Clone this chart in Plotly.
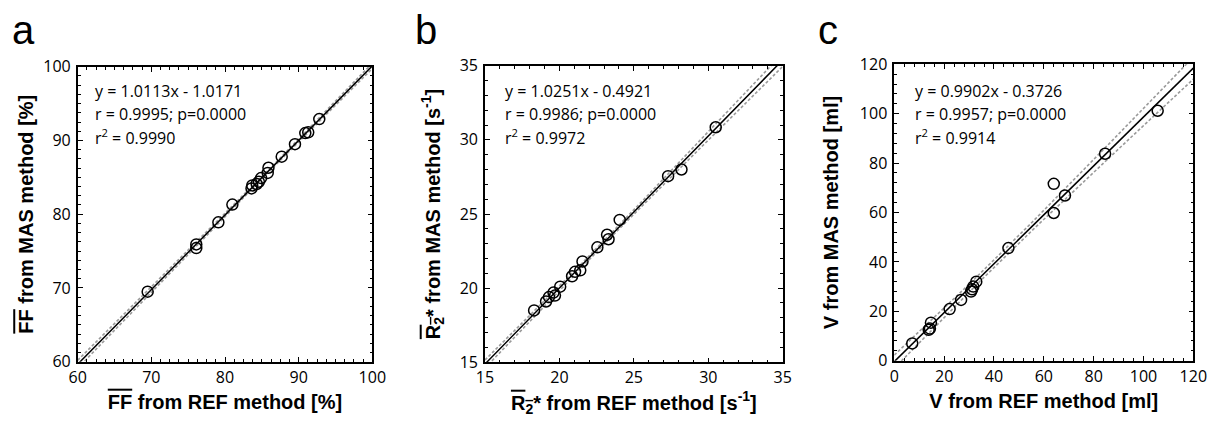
import numpy as np
import plotly.graph_objects as go

# The page body adds an 8 px margin, so the figure is drawn 8 px in from the
# window corner; positions below are given in window pixels and converted.
OFF = 8
W, H = 1220 - OFF, 421 - OFF

# ---------------- data ----------------
ff_ref = [69.5, 76.1, 76.1, 79.1, 81.0, 83.6, 83.7, 84.3, 84.6, 84.9, 85.8, 85.9, 87.7, 89.5, 90.9, 91.3, 92.8]
ff_mas = [69.5, 75.9, 75.4, 78.9, 81.3, 83.5, 83.9, 84.1, 84.4, 84.9, 85.6, 86.3, 87.8, 89.5, 91.0, 91.1, 92.9]

r2_ref = [18.3, 19.1, 19.3, 19.6, 19.7, 20.05, 20.85, 21.05, 21.4, 21.55, 22.55, 23.2, 23.3, 24.05, 27.3, 28.2, 30.5]
r2_mas = [18.5, 19.1, 19.4, 19.7, 19.5, 20.1, 20.8, 21.1, 21.2, 21.8, 22.75, 23.6, 23.3, 24.6, 27.55, 28.0, 30.85]

v_ref = [7.2, 13.8, 14.3, 14.7, 22.2, 26.8, 30.8, 31.2, 31.7, 32.9, 45.8, 64.0, 64.0, 68.5, 84.6, 105.7]
v_mas = [7.0, 12.5, 13.0, 15.4, 20.9, 24.6, 28.0, 28.9, 30.0, 32.0, 45.6, 71.6, 59.8, 66.9, 83.8, 101.2]

# regression coefficients printed on the chart
slopes = [1.0113, 1.0251, 0.9902]
intercepts = [-1.0171, -0.4921, -0.3726]
eq_texts = ["y = 1.0113x - 1.0171", "y = 1.0251x - 0.4921", "y = 0.9902x - 0.3726"]
r_texts = ["r = 0.9995; p=0.0000", "r = 0.9986; p=0.0000", "r = 0.9957; p=0.0000"]
r2_texts = ["r<sup>2</sup> = 0.9990", "r<sup>2</sup> = 0.9972", "r<sup>2</sup> = 0.9914"]

ranges = [(60, 100), (15, 35), (0, 120)]
major_steps = [10, 5, 20]
minor_steps = [1.25, 1, 4]
panel_letters = ["a", "b", "c"]

OL = '<span style="text-decoration:overline">'
x_titles = [
    f"<b>{OL}FF</span> from REF method [%]</b>",
    f"<b>{OL}R<sub>2</sub></span>* from REF method [s<sup>-1</sup>]</b>",
    "<b>V from REF method [ml]</b>",
]
y_titles = [
    f"<b>{OL}FF</span> from MAS method [%]</b>",
    f"<b>{OL}R<sub>2</sub></span>* from MAS method [s<sup>-1</sup>]</b>",
    "<b>V from MAS method [ml]</b>",
]

T95 = 2.12  # Student t quantile used for the 95% confidence band

# ---------------- layout geometry (window pixels) ----------------
boxes = [  # left, right, top, bottom
    (77.7, 372.3, 66.7, 361.7),
    (485.0, 782.7, 65.7, 362.3),
    (894.3, 1193.3, 64.3, 360.7),
]
letter_x = [10, 413, 816]
text_dx = [15, 18, 19]
ytitle_standoff = [4, 14, 16]

def px(x):
    return (x - OFF) / W

def py(y):
    return 1 - (y - OFF) / H

fig = go.Figure()
datasets = [(ff_ref, ff_mas), (r2_ref, r2_mas), (v_ref, v_mas)]
FONT = "Open Sans"
TITLE_FONT = "Liberation Sans"

layout = dict(
    width=W, height=H,
    margin=dict(l=0, r=0, t=0, b=0, autoexpand=False),
    paper_bgcolor="white", plot_bgcolor="white",
    showlegend=False,
    font=dict(family=FONT, color="black", size=16),
)
annotations = []

for i in range(3):
    xs = np.array(datasets[i][0], dtype=float)
    ys = np.array(datasets[i][1], dtype=float)
    lo, hi = ranges[i]
    xa = "x" if i == 0 else f"x{i+1}"
    ya = "y" if i == 0 else f"y{i+1}"
    xkey = "xaxis" if i == 0 else f"xaxis{i+1}"
    ykey = "yaxis" if i == 0 else f"yaxis{i+1}"

    # regression line + confidence band
    gx = np.linspace(lo, hi, 200)
    fit = slopes[i] * gx + intercepts[i]
    pred = slopes[i] * xs + intercepts[i]
    n = len(xs)
    s = np.sqrt(np.sum((ys - pred) ** 2) / (n - 2))
    sxx = np.sum((xs - xs.mean()) ** 2)
    half = T95 * s * np.sqrt(1 / n + (gx - xs.mean()) ** 2 / sxx)

    for band in (fit + half, fit - half):
        fig.add_trace(go.Scatter(x=gx, y=band, mode="lines", xaxis=xa, yaxis=ya,
                                 line=dict(color="#9a9a9a", width=1.6, dash="3px,2px"),
                                 hoverinfo="skip"))
    fig.add_trace(go.Scatter(x=gx, y=fit, mode="lines", xaxis=xa, yaxis=ya,
                             line=dict(color="black", width=1.5), hoverinfo="skip"))
    fig.add_trace(go.Scatter(x=xs, y=ys, mode="markers", xaxis=xa, yaxis=ya,
                             marker=dict(symbol="circle-open", size=11, color="black",
                                         line=dict(width=1.5, color="black")),
                             cliponaxis=False))

    L, R, T, B = boxes[i]
    common = dict(
        range=[lo, hi], showgrid=False, zeroline=False, automargin=False,
        showline=True, linecolor="black", linewidth=1.6, mirror="allticks",
        ticks="inside", ticklen=5, tickwidth=1.2, tickcolor="black",
        tick0=lo, dtick=major_steps[i],
        minor=dict(ticks="inside", ticklen=3, tickwidth=1, tickcolor="black",
                   dtick=minor_steps[i], tick0=lo, showgrid=False),
        tickfont=dict(family=FONT, size=16, color="black"),
        fixedrange=True,
    )
    layout[xkey] = dict(common, domain=[px(L), px(R)], anchor=ya, ticklabelstandoff=0,
                        title=dict(text=x_titles[i], standoff=8,
                                   font=dict(family=TITLE_FONT, size=20, color="black")))
    layout[ykey] = dict(common, domain=[py(B), py(T)], anchor=xa, ticklabelstandoff=2,
                        title=dict(text=y_titles[i], standoff=ytitle_standoff[i],
                                   font=dict(family=TITLE_FONT, size=20, color="black")))

    for j, (txt, yy) in enumerate(zip([eq_texts[i], r_texts[i], r2_texts[i]], [91, 114, 137])):
        annotations.append(dict(text=txt, x=px(L + text_dx[i]), y=py(yy), xref="paper", yref="paper",
                                xanchor="left", yanchor="middle", showarrow=False,
                                font=dict(family=FONT, size=16, color="black")))
    annotations.append(dict(text=panel_letters[i], x=px(letter_x[i]), y=py(30), xref="paper", yref="paper",
                            xanchor="left", yanchor="middle", showarrow=False,
                            font=dict(family=TITLE_FONT, size=40, color="black")))

layout["annotations"] = annotations
fig.update_layout(**layout)
fig.write_html("out.html")
